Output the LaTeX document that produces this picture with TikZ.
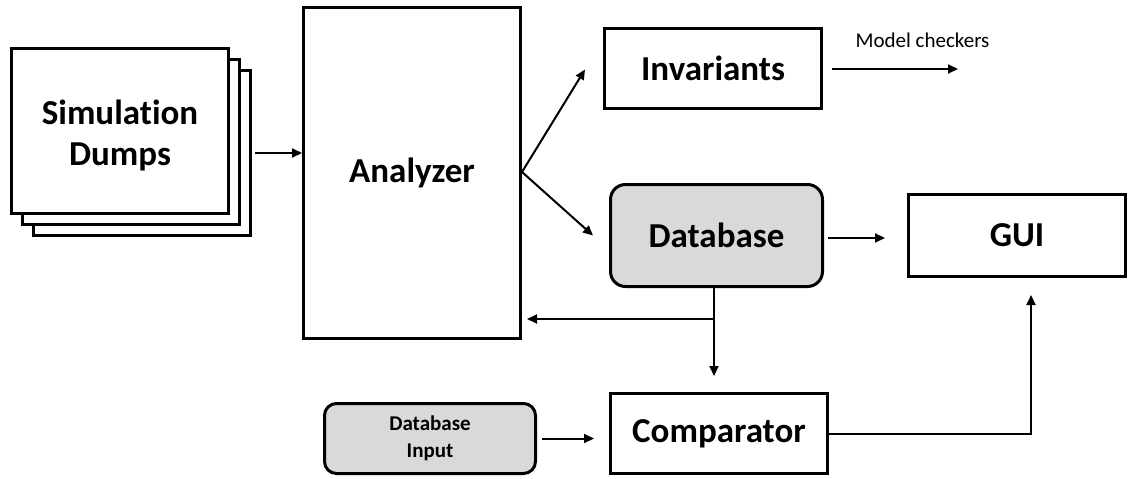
\documentclass[tikz,border=0pt]{standalone}
\usepackage{fontspec}
\setmainfont{Carlito}[Ligatures=NoCommon]
\usetikzlibrary{arrows.meta}
\definecolor{dbgray}{HTML}{D9D9D9}
\tikzset{
  block/.style={draw, line width=3pt, fill=white, inner sep=0pt,
    font=\fontsize{35}{41}\selectfont\bfseries, align=center},
  store/.style={block, fill=dbgray, rounded corners=15pt},
  arr/.style={line width=2pt, -{Triangle[length=10pt,width=9pt]}}
}
\begin{document}
\begin{tikzpicture}[x=1pt, y=-1pt]
    \useasboundingbox (0,0) rectangle (1133,479);
    % stacked dumps
    \foreach \k in {2,1} {
      \node[block, minimum width=217pt, minimum height=165pt] (dump\k) at (120+11*\k, 131+11*\k) {};
    }
    \node[block, minimum width=217pt, minimum height=165pt] (dump0) at (120,131) {\rule{0pt}{33pt}Simulation\\Dumps};
    \node[block, minimum width=217pt, minimum height=331pt] (ana) at (412,173) {Analyzer};
    \node[block, minimum width=217pt, minimum height=80pt] (inv) at (713,68.5) {Invariants};
    \node[store, minimum width=212pt, minimum height=102pt] (db) at (716.5,235.5) {Database};
    \node[block, minimum width=217pt, minimum height=82pt] (gui) at (1017,235.5) {GUI};
    \node[block, minimum width=217pt, minimum height=80pt] (comp) at (719,433.5) {Comparator};
    \node[store, rounded corners=12pt, minimum width=211pt, minimum height=70pt,
      font=\fontsize{21}{27}\selectfont\bfseries] (dbin) at (430,438.5) {Database\\Input};
    \coordinate (mc) at (958,69);
    \node[font=\fontsize{21}{25}\selectfont] (mclabel) at (922.5,40) {Model checkers};
    \coordinate (split) at (714,319);
    % connectors
    \draw[arr] ([xshift=3pt]dump2.east) -- (dump2.east -| ana.west);
    \draw[arr] ([yshift=1pt]ana.east) -- ([xshift=-18pt,yshift=-1pt]inv.west);
    \draw[arr] ([yshift=1pt]ana.east) -- ([xshift=-16pt]db.west);
    \draw[arr] ([xshift=9pt,yshift=-0.5pt]inv.east) -- (mc);
    \draw[arr] ([xshift=4pt,yshift=-2.5pt]db.east) -- ([xshift=-22pt,yshift=-2.5pt]gui.west);
    \draw[line width=2pt] (db.south -| split) -- (split);
    \draw[arr] (split) -- ([yshift=16pt]comp.north -| split);
    \draw[arr] (split) -- ([xshift=5pt]split -| ana.east);
    \draw[arr] ([xshift=5pt]dbin.east) -- ([xshift=-15pt]dbin.east -| comp.west);
    \draw[arr] (comp.east) -| ([xshift=14pt,yshift=-17pt]gui.south);
\end{tikzpicture}
\end{document}
